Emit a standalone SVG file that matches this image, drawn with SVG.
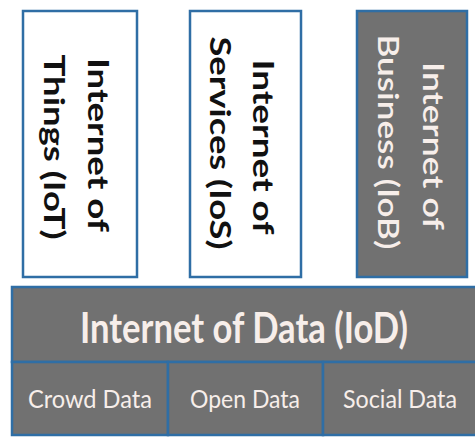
<svg xmlns="http://www.w3.org/2000/svg" width="475" height="437" viewBox="0 0 475 437">
<style>
.box{stroke:#2f6ea5;stroke-width:2.5}
.white{fill:#ffffff}
.gray{fill:#717171}
.vt{font-family:Lato,"Liberation Sans",sans-serif;font-size:29px;text-anchor:middle}
.dark{fill:#111111;font-weight:bold}
.light{fill:#f7eeea;font-weight:600}
.ht{font-family:Lato,"Liberation Sans",sans-serif;fill:#f7eeea;text-anchor:middle}
</style>
<rect x="0" y="0" width="475" height="437" fill="#ffffff"/>
<g id="iot">
<rect class="box white" x="23" y="11" width="114" height="266"/>
<text class="vt dark" transform="translate(88,145) rotate(90)" textLength="174" lengthAdjust="spacingAndGlyphs">Internet of</text>
<text class="vt dark" transform="translate(44,147) rotate(90)" textLength="185" lengthAdjust="spacingAndGlyphs">Things (IoT)</text>
</g>
<g id="ios">
<rect class="box white" x="190" y="11" width="111" height="266"/>
<text class="vt dark" transform="translate(253,147) rotate(90)" textLength="175" lengthAdjust="spacingAndGlyphs">Internet of</text>
<text class="vt dark" transform="translate(210,143) rotate(90)" textLength="213" lengthAdjust="spacingAndGlyphs">Services (IoS)</text>
</g>
<g id="iob">
<rect class="box gray" x="357" y="11" width="110" height="266"/>
<text class="vt light" transform="translate(423,146) rotate(90)" textLength="168" lengthAdjust="spacingAndGlyphs">Internet of</text>
<text class="vt light" transform="translate(378,142) rotate(90)" textLength="215" lengthAdjust="spacingAndGlyphs">Business (IoB)</text>
</g>
<g id="iod">
<rect class="box gray" x="12" y="287" width="470" height="75"/>
<text class="ht" font-size="32" font-weight="bold" transform="translate(244,343) scale(1,1.3)" textLength="328" lengthAdjust="spacingAndGlyphs">Internet of Data (IoD)</text>
</g>
<g id="crowd">
<rect class="box gray" x="12" y="362" width="156" height="73"/>
<text class="ht" font-size="19" transform="translate(90,408) scale(1,1.3)" textLength="124" lengthAdjust="spacingAndGlyphs">Crowd Data</text>
</g>
<g id="open">
<rect class="box gray" x="168" y="362" width="155" height="73"/>
<text class="ht" font-size="19" transform="translate(245,408) scale(1,1.3)" textLength="110" lengthAdjust="spacingAndGlyphs">Open Data</text>
</g>
<g id="social">
<rect class="box gray" x="323" y="362" width="160" height="73"/>
<text class="ht" font-size="19" transform="translate(400,408) scale(1,1.3)" textLength="114" lengthAdjust="spacingAndGlyphs">Social Data</text>
</g>
<g id="connectors"></g>
</svg>
